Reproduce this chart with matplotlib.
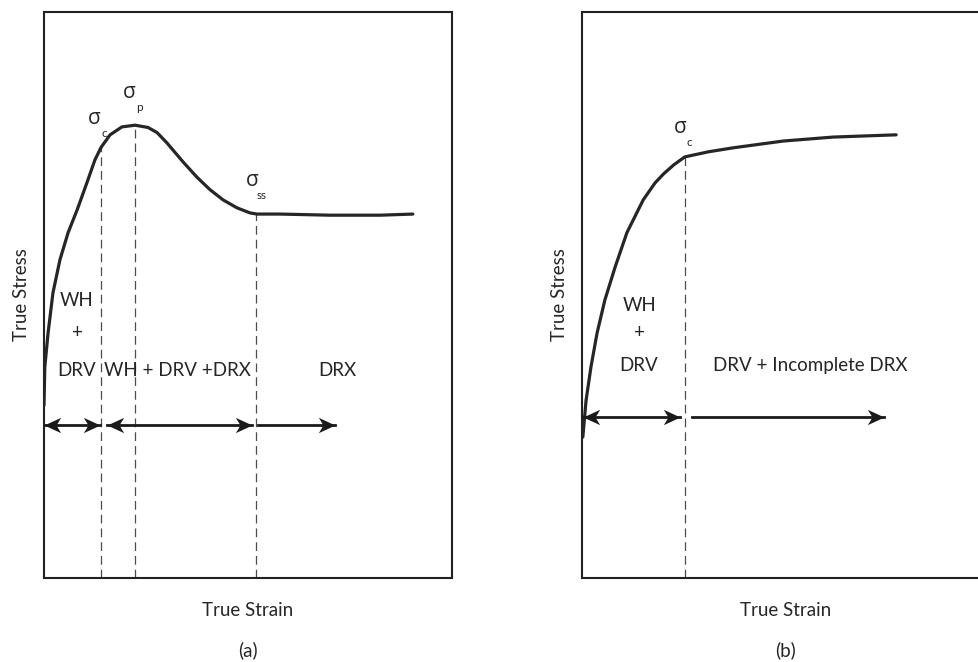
import matplotlib
matplotlib.use("Agg")
import matplotlib.pyplot as plt
from matplotlib.path import Path

plt.rcParams["font.family"] = ["Lato", "DejaVu Sans"]

# normalised true strain / true stress, flow curve with a peak (a)
strain_a = [0.000, 0.002, 0.010, 0.022, 0.039, 0.059, 0.081, 0.105, 0.125, 0.140,
            0.162, 0.191, 0.223, 0.255, 0.277, 0.301, 0.341, 0.375, 0.407, 0.439,
            0.473, 0.505, 0.522, 0.578, 0.701, 0.824, 0.904]
stress_a = [0.305, 0.373, 0.433, 0.504, 0.562, 0.610, 0.650, 0.698, 0.739, 0.761,
            0.783, 0.797, 0.800, 0.796, 0.787, 0.769, 0.735, 0.708, 0.686, 0.668,
            0.654, 0.645, 0.643, 0.643, 0.641, 0.641, 0.643]

# flow curve without a peak (b)
strain_b = [0.002, 0.010, 0.022, 0.037, 0.056, 0.081, 0.110, 0.150, 0.179, 0.200,
            0.225, 0.252, 0.310, 0.370, 0.493, 0.615, 0.770]
stress_b = [0.249, 0.314, 0.373, 0.433, 0.491, 0.549, 0.610, 0.668, 0.698, 0.714,
            0.730, 0.744, 0.753, 0.760, 0.772, 0.779, 0.783]

# critical / peak / steady-state points
crit_a = (0.140, 0.761)
peak_a = (0.223, 0.800)
ss_a = (0.520, 0.643)
crit_b = (0.252, 0.744)

# regime arrows: (start, end, double headed)
arrow_y_a = 0.270
arrows_a = [(0.000, 0.137, True), (0.154, 0.510, True), (0.525, 0.713, False)]
arrow_y_b = 0.284
arrows_b = [(0.002, 0.240, True), (0.270, 0.740, False)]

ink = "#262626"

# swept ("stealth") arrow head, tip at the origin pointing to +x
head_r = Path([(0, 0), (-1, 0.46), (-0.72, 0), (-1, -0.46), (0, 0)],
              [Path.MOVETO, Path.LINETO, Path.LINETO, Path.LINETO, Path.CLOSEPOLY])
head_l = Path([(0, 0), (1, 0.46), (0.72, 0), (1, -0.46), (0, 0)],
              [Path.MOVETO, Path.LINETO, Path.LINETO, Path.LINETO, Path.CLOSEPOLY])

fig = plt.figure(figsize=(9.79, 6.62), dpi=100)
ax_a = fig.add_axes([44 / 979, 84 / 662, 408 / 979, 566 / 662])
ax_b = fig.add_axes([582 / 979, 84 / 662, 408 / 979, 566 / 662])


def setup(ax, tag):
    ax.set_xlim(0, 1)
    ax.set_ylim(0, 1)
    ax.set_xticks([])
    ax.set_yticks([])
    for s in ax.spines.values():
        s.set_linewidth(1.5)
        s.set_color("#222222")
    ax.text(-0.054, 0.5, "True Stress", rotation=90, ha="center", va="center",
            fontsize=13.5, color=ink, transform=ax.transAxes)
    ax.text(0.5, -0.057, "True Strain", ha="center", va="center",
            fontsize=13.5, color=ink, transform=ax.transAxes)
    ax.text(0.5, -0.127, tag, ha="center", va="center",
            fontsize=13.5, color=ink, transform=ax.transAxes)


def vdash(ax, pt):
    ax.plot([pt[0], pt[0]], [0, pt[1]], color="#4d4d4d", lw=0.9,
            dashes=(7, 4), zorder=1)


def draw_arrows(ax, y, segs):
    for x0, x1, both in segs:
        ax.plot([x0, x1], [y, y], color="#1a1a1a", lw=2.0, zorder=4)
        ax.plot([x1], [y], marker=head_r, markersize=24, color="#1a1a1a",
                markeredgewidth=0, zorder=5)
        if both:
            ax.plot([x0], [y], marker=head_l, markersize=24, color="#1a1a1a",
                    markeredgewidth=0, zorder=5)


def sigma(ax, x, y, sub):
    ax.text(x, y, "σ", ha="center", va="center", fontsize=15, color=ink,
            family=["Open Sans", "DejaVu Sans"])
    ax.text(x + 0.024, y - 0.026, sub, ha="center", va="center", fontsize=8.5,
            color=ink)


# (a)
setup(ax_a, "(a)")
ax_a.plot(strain_a, stress_a, color=ink, lw=2.3, solid_capstyle="round",
          solid_joinstyle="round", zorder=3)
for pt in (crit_a, peak_a, ss_a):
    vdash(ax_a, pt)
draw_arrows(ax_a, arrow_y_a, arrows_a)
sigma(ax_a, 0.124, 0.812, "c")
sigma(ax_a, 0.210, 0.858, "p")
sigma(ax_a, 0.510, 0.702, "ss")
for txt, yy in (("WH", 0.491), ("+", 0.433), ("DRV", 0.367)):
    ax_a.text(0.081, yy, txt, ha="center", va="center", fontsize=13.5, color=ink)
ax_a.text(0.328, 0.367, "WH + DRV +DRX", ha="center", va="center", fontsize=13.5, color=ink)
ax_a.text(0.719, 0.367, "DRX", ha="center", va="center", fontsize=13.5, color=ink)

# (b)
setup(ax_b, "(b)")
ax_b.plot(strain_b, stress_b, color=ink, lw=2.3, solid_capstyle="round",
          solid_joinstyle="round", zorder=3)
vdash(ax_b, crit_b)
draw_arrows(ax_b, arrow_y_b, arrows_b)
sigma(ax_b, 0.240, 0.796, "c")
for txt, yy in (("WH", 0.482), ("+", 0.433), ("DRV", 0.376)):
    ax_b.text(0.140, yy, txt, ha="center", va="center", fontsize=13.5, color=ink)
ax_b.text(0.559, 0.376, "DRV + Incomplete DRX", ha="center", va="center",
          fontsize=13.5, color=ink)

fig.savefig("out.png", dpi=100)
